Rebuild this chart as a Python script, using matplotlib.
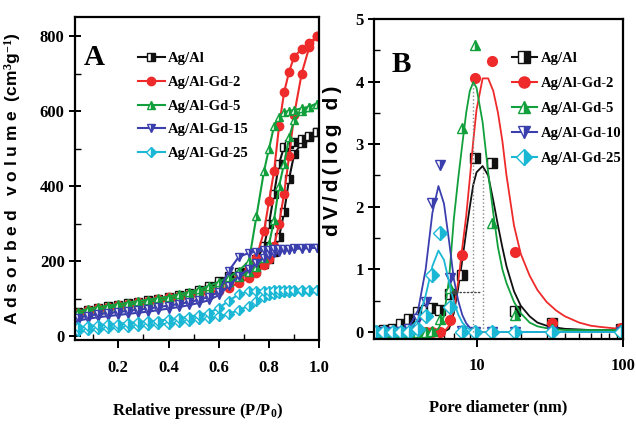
import matplotlib
matplotlib.use("Agg")
import matplotlib.pyplot as plt
from matplotlib.ticker import MultipleLocator, FixedLocator, NullFormatter

plt.rcParams['font.family'] = ['Liberation Serif', 'DejaVu Serif']
plt.rcParams['font.weight'] = 'bold'
plt.rcParams['axes.labelweight'] = 'bold'
plt.rcParams['mathtext.fontset'] = 'custom'
plt.rcParams['mathtext.rm'] = 'Liberation Serif:bold'
plt.rcParams['mathtext.default'] = 'rm'

# ---- panel A: N2 isotherms (adsorption / desorption branches) ----
p_rel = [0.04, 0.08, 0.12, 0.16, 0.20, 0.24, 0.28, 0.32, 0.36, 0.40, 0.44, 0.48, 0.52, 0.56, 0.60,
         0.64, 0.68, 0.72, 0.75, 0.78, 0.80, 0.82, 0.84, 0.86, 0.88, 0.90, 0.93, 0.96, 0.99]

agal_ads = [58, 65, 70, 74, 78, 82, 86, 90, 94, 99, 104, 110, 118, 128, 140,
            150, 160, 170, 180, 192, 205, 225, 265, 330, 420, 485, 515, 530, 545]
agal_des = [64, 71, 76, 80, 84, 88, 92, 96, 100, 105, 110, 116, 124, 134, 148,
            160, 172, 185, 205, 240, 300, 380, 460, 505, 512, 518, 525, 533, 545]
gd2_ads = [55, 63, 68, 72, 76, 80, 84, 88, 92, 96, 100, 104, 110, 116, 122,
           130, 142, 155, 170, 190, 205, 240, 300, 380, 480, 590, 700, 770, 800]
gd2_des = [62, 70, 75, 79, 83, 87, 91, 95, 99, 104, 108, 113, 119, 126, 134,
           145, 160, 180, 210, 280, 360, 440, 560, 650, 705, 745, 765, 780, 800]
gd5_ads = [60, 67, 72, 76, 80, 84, 88, 92, 96, 100, 106, 112, 119, 127, 136,
           146, 158, 172, 185, 210, 245, 310, 400, 460, 530, 575, 600, 610, 620]
gd5_des = [66, 73, 78, 82, 86, 90, 94, 98, 102, 106, 112, 118, 125, 134, 145,
           158, 175, 200, 320, 440, 500, 560, 585, 597, 600, 603, 607, 612, 620]
gd15_ads = [42, 47, 51, 54, 57, 60, 63, 66, 70, 74, 78, 83, 89, 96, 110,
            135, 160, 180, 195, 210, 217, 222, 226, 229, 231, 233, 234, 235, 236]
gd15_des = [50, 55, 59, 62, 65, 68, 71, 74, 78, 82, 86, 91, 97, 105, 118,
            175, 212, 222, 226, 229, 231, 232, 233, 234, 234, 235, 235, 235, 236]
gd25_ads = [14, 17, 20, 22, 24, 26, 28, 30, 32, 34, 37, 42, 45, 48, 53,
            60, 70, 82, 95, 104, 110, 113, 116, 118, 119, 120, 121, 122, 123]
gd25_des = [24, 27, 30, 32, 34, 36, 38, 40, 42, 45, 48, 52, 57, 63, 75,
            95, 112, 120, 122, 122, 122, 123, 123, 123, 123, 123, 123, 123, 123]

labels_a = ['Ag/Al', 'Ag/Al-Gd-2', 'Ag/Al-Gd-5', 'Ag/Al-Gd-15', 'Ag/Al-Gd-25']

# ---- panel B: pore size distribution (points + fitted curves) ----
d_pts = [2.06, 2.34, 2.68, 3.05, 3.48, 3.97, 4.5, 5.0, 5.6, 6.6, 8.0, 9.7, 12.7, 18.2, 32.5, 96]
agal_pts = [0.02, 0.03, 0.05, 0.12, 0.20, 0.32, 0.35, 0.38, 0.35, 0.60, 0.91, 2.78, 2.70, 0.33, 0.14, 0.04]
gd2_pts = [0, 0, 0, 0, 0, 0, 0, 0, 0.0, 0.19, 1.23, 4.06, 4.32, 1.28, 0.14, 0.06]
gd5_pts = [0, 0, 0, 0, 0, 0, 0.0, 0.02, 0.20, 0.70, 3.26, 4.59, 1.74, 0.27, 0.05, 0.03]
gd10_pts = [0, 0, 0, 0, 0.05, 0.20, 0.48, 2.06, 2.67, 0.86, 0.02, 0, 0, 0, 0, 0]
gd25_pts = [0, 0, 0, 0, 0, 0.05, 0.25, 0.91, 1.58, 0.40, 0, 0, 0, 0, 0, 0]

d_fit = [2, 2.5, 3, 3.5, 4, 4.5, 5, 5.5, 6, 6.5, 7, 7.5, 8, 8.5, 9, 9.5, 10, 11, 12, 13, 14, 15, 16,
         18, 20, 23, 26, 30, 35, 40, 50, 60, 70, 85, 100]
agal_fit = [0, 0, 0, 0, 0, 0, 0, 0, 0, 0.05, 0.3, 0.7, 1.15, 1.6, 2.0, 2.35, 2.55, 2.65, 2.5, 2.1, 1.7, 1.35, 1.05,
            0.65, 0.42, 0.25, 0.15, 0.1, 0.07, 0.05, 0.04, 0.03, 0.03, 0.03, 0.03]
gd2_fit = [0, 0, 0, 0, 0, 0, 0, 0, 0, 0.1, 0.35, 0.8, 1.35, 1.85, 2.45, 3.05, 3.55, 4.05, 4.05, 3.85, 3.5, 3.05, 2.5,
           1.7, 1.25, 0.9, 0.67, 0.48, 0.34, 0.25, 0.15, 0.1, 0.08, 0.06, 0.05]
gd5_fit = [0, 0, 0, 0, 0, 0, 0, 0.05, 0.25, 0.85, 1.8, 2.45, 3.0, 3.5, 3.85, 3.99, 3.9, 3.35, 2.55, 1.9, 1.35, 1.0, 0.78,
           0.48, 0.3, 0.15, 0.09, 0.06, 0.04, 0.03, 0.03, 0.03, 0.03, 0.03, 0.03]
gd10_fit = [0, 0, 0.01, 0.1, 0.35, 1.0, 1.9, 2.33, 2.05, 1.45, 0.85, 0.5, 0.27, 0.14, 0.07, 0.03, 0.01, 0, 0, 0, 0, 0, 0,
            0, 0, 0, 0, 0, 0, 0, 0, 0, 0, 0, 0]
gd25_fit = [0, 0, 0, 0.05, 0.2, 0.58, 1.05, 1.3, 1.15, 0.8, 0.48, 0.28, 0.15, 0.08, 0.04, 0.02, 0.01, 0, 0, 0, 0, 0, 0,
            0, 0, 0, 0, 0, 0, 0, 0, 0, 0, 0, 0]

labels_b = ['Ag/Al', 'Ag/Al-Gd-2', 'Ag/Al-Gd-5', 'Ag/Al-Gd-10', 'Ag/Al-Gd-25']

colors = ['#111111', '#ee2a2a', '#12a03c', '#3b3fae', '#1bb8d6']
markers = ['s', 'o', '^', 'v', 'D']

fig = plt.figure(figsize=(6.36, 4.30), dpi=100)
ax_a = fig.add_axes([0.118, 0.209, 0.384, 0.751])
ax_b = fig.add_axes([0.588, 0.212, 0.392, 0.744])

ads = [agal_ads, gd2_ads, gd5_ads, gd15_ads, gd25_ads]
des = [agal_des, gd2_des, gd5_des, gd15_des, gd25_des]
for i in range(5):
    fs = 'full' if markers[i] == 'o' else 'right'
    ms = 5 if markers[i] == 'D' else 6
    style = dict(color=colors[i], marker=markers[i], ms=ms, mew=1.0, lw=1.5,
                 fillstyle=fs, markerfacecoloralt='white')
    ax_a.plot(p_rel, ads[i], label=labels_a[i], **style)
    ax_a.plot(p_rel, des[i], **style)

ax_a.set_xlim(0.028, 1.0)
ax_a.set_ylim(-10, 850)
ax_a.xaxis.set_major_locator(FixedLocator([0.2, 0.4, 0.6, 0.8, 1.0]))
ax_a.xaxis.set_minor_locator(MultipleLocator(0.1))
ax_a.yaxis.set_major_locator(MultipleLocator(200))
ax_a.yaxis.set_minor_locator(MultipleLocator(100))
ax_a.set_xlabel('Relative pressure (P/P$_0$)', fontsize=12, labelpad=18)
ax_a.set_ylabel('A d s o r b e d   v o l u m e  (cm$^3$g$^{-1}$)', fontsize=12.5,
                family=['Liberation Sans', 'DejaVu Sans'], labelpad=2)
ax_a.yaxis.set_label_coords(-0.215, 0.5)
ax_a.text(0.08, 0.875, 'A', transform=ax_a.transAxes, fontsize=21, ha='center', va='center')
ax_a.legend(loc='upper left', bbox_to_anchor=(0.235, 0.91), frameon=False, fontsize=10.5,
            handlelength=1.8, handletextpad=0.2, labelspacing=0.72, borderaxespad=0)

pts = [agal_pts, gd2_pts, gd5_pts, gd10_pts, gd25_pts]
fits = [agal_fit, gd2_fit, gd5_fit, gd10_fit, gd25_fit]
for i in range(5):
    fs = 'full' if markers[i] == 'o' else 'right'
    ax_b.plot(d_fit, fits[i], color=colors[i], lw=1.3)
    ax_b.plot(d_pts, pts[i], ls='none', color=colors[i], marker=markers[i], ms=7, mew=1.0,
              fillstyle=fs, markerfacecoloralt='white')
    ax_b.plot([], [], color=colors[i], marker=markers[i], ms=8, mew=1.0, lw=1.5,
              fillstyle=fs, markerfacecoloralt='white', label=labels_b[i])

# peak guides
peak_d = [9.5, 11.0]
peak_v = [4.0, 2.6]
for pd_, pv in zip(peak_d, peak_v):
    ax_b.plot([pd_, pd_], [0, pv], color='#888888', ls=':', lw=1.0)
ax_b.annotate('', xy=(6.3, 0.63), xytext=(11.0, 0.63),
              arrowprops=dict(arrowstyle='-|>', ls=':', color='#444444', lw=1.0, mutation_scale=9))

ax_b.set_xscale('log')
ax_b.set_xlim(2, 100)
ax_b.set_ylim(-0.11, 5)
ax_b.xaxis.set_major_locator(FixedLocator([10, 100]))
ax_b.xaxis.set_minor_formatter(NullFormatter())
ax_b.set_xticklabels(['10', '100'])
ax_b.yaxis.set_major_locator(MultipleLocator(1))
ax_b.yaxis.set_minor_locator(MultipleLocator(0.5))
ax_b.set_xlabel('Pore diameter (nm)', fontsize=12, labelpad=18)
ax_b.set_ylabel('\u2009'.join('dV/d(log d)'), fontsize=15, family=['Liberation Sans', 'DejaVu Sans'])
ax_b.yaxis.set_label_coords(-0.13, 0.555)
ax_b.text(0.11, 0.856, 'B', transform=ax_b.transAxes, fontsize=21, ha='center', va='center')
ax_b.legend(loc='upper left', bbox_to_anchor=(0.53, 0.915), frameon=False, fontsize=10.5,
            handlelength=1.7, handletextpad=0.3, labelspacing=0.8, borderaxespad=0)

for ax in (ax_a, ax_b):
    for s in ax.spines.values():
        s.set_linewidth(1.6)
    ax.tick_params(which='major', direction='inout', length=8, width=1.4, labelsize=12)
    ax.tick_params(which='minor', direction='in', length=4, width=1.0)
    ax.tick_params(axis='x', which='major', direction='out', length=6, pad=8)

fig.savefig('out.png', dpi=100)
